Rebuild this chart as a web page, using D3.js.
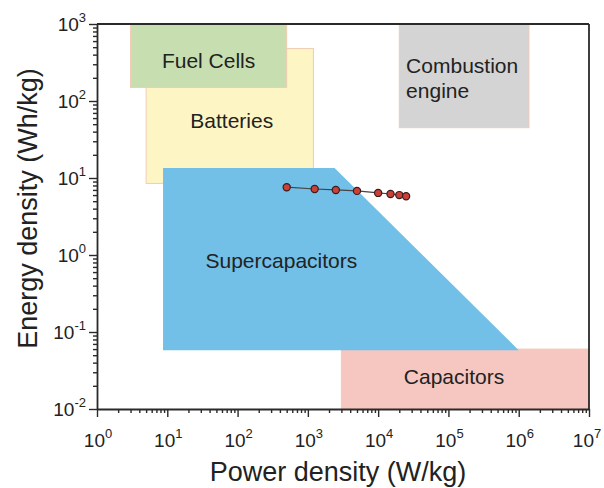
<!DOCTYPE html>
<html lang="en">
<head>
  <meta charset="UTF-8" />
  <title>Ragone plot</title>
  <style>
    body { margin: 0; background: #fff; font-family: "Liberation Sans", Arial, sans-serif; }
    svg { display: block; }
  </style>
</head>
<body>
  <svg id="chart"></svg>

  <script src="https://d3js.org/d3.v7.min.js"></script>
  <script>
    // ---- data ----
    const xDomain = [1, 1e7];
    const yDomain = [0.01, 1000];
    const xDecades = [0, 1, 2, 3, 4, 5, 6, 7];
    const yDecades = [-2, -1, 0, 1, 2, 3];

    // rectangular regions: [xMin, xMax, yMin, yMax]
    const regionNames = ["Batteries", "Fuel Cells", "Combustion engine", "Capacitors"];
    const regionBounds = [
      [5, 1200, 8.5, 480],
      [3, 500, 150, 1000],
      [20000, 1.4e6, 45, 1000],
      [3000, 1e7, 0.06, 0.01]
    ];
    const regionFills = ["#fdf6c4", "#c7dfb0", "#d4d4d4", "#f6c7c0"];

    // supercapacitor polygon corners (x, y)
    const superX = [8.7, 2400, 1e6, 8.7];
    const superY = [13.5, 13.5, 0.058, 0.058];

    // measured points
    const powerVals = [500, 1250, 2500, 5000, 10000, 15000, 20000, 25000];
    const energyVals = [7.6, 7.2, 7.0, 6.8, 6.4, 6.2, 6.0, 5.8];

    // ---- layout ----
    const W = 604, H = 488;
    const margin = {top: 24, right: 15, bottom: 79, left: 97};
    const width = W - margin.left - margin.right;
    const height = H - margin.top - margin.bottom;

    const root = d3.select("#chart").attr("width", W).attr("height", H);
    const svg = root.append("g").attr("transform", `translate(${margin.left},${margin.top})`);

    const x = d3.scaleLog().domain(xDomain).range([0, width]);
    const y = d3.scaleLog().domain(yDomain).range([height, 0]);

    // regions
    svg.selectAll(".region")
      .data(regionBounds)
      .join("rect")
      .attr("x", d => x(d[0]))
      .attr("width", d => x(d[1]) - x(d[0]))
      .attr("y", d => y(Math.max(d[2], d[3])))
      .attr("height", d => Math.abs(y(d[2]) - y(d[3])))
      .attr("fill", (d, i) => regionFills[i])
      .attr("stroke", "#f2cbb4")
      .attr("stroke-width", 1);

    svg.append("polygon")
      .attr("points", superX.map((v, i) => `${x(v)},${y(superY[i])}`).join(" "))
      .attr("fill", "#72bfe8");

    // region labels
    const labelFont = 21;
    svg.append("text").attr("x", (x(3) + x(500)) / 2).attr("y", y(270))
      .attr("text-anchor", "middle").attr("font-size", labelFont).attr("fill", "#222").text("Fuel Cells");
    svg.append("text").attr("x", (x(5) + x(1200)) / 2 + 2).attr("y", y(45))
      .attr("text-anchor", "middle").attr("font-size", labelFont).attr("fill", "#222").text("Batteries");
    const ce = svg.append("text").attr("x", x(25000)).attr("y", y(230))
      .attr("font-size", labelFont).attr("fill", "#222");
    ce.append("tspan").text("Combustion");
    ce.append("tspan").attr("x", x(25000)).attr("dy", 25).text("engine");
    svg.append("text").attr("x", x(420)).attr("y", y(0.68))
      .attr("text-anchor", "middle").attr("font-size", labelFont).attr("fill", "#222").text("Supercapacitors");
    svg.append("text").attr("x", x(1.2e5)).attr("y", y(0.021))
      .attr("text-anchor", "middle").attr("font-size", labelFont).attr("fill", "#222").text("Capacitors");

    // data line + points
    svg.append("path")
      .datum(powerVals.map((p, i) => [p, energyVals[i]]))
      .attr("fill", "none")
      .attr("stroke", "#444")
      .attr("stroke-width", 1.2)
      .attr("d", d3.line().x(d => x(d[0])).y(d => y(d[1])));

    svg.selectAll(".pt")
      .data(powerVals)
      .join("circle")
      .attr("cx", d => x(d))
      .attr("cy", (d, i) => y(energyVals[i]))
      .attr("r", 3.6)
      .attr("fill", "#c9423a")
      .attr("stroke", "#3a1c1c")
      .attr("stroke-width", 1.2);

    // axes with minor ticks
    function allTicks(decs) {
      const t = [];
      decs.forEach((e, k) => {
        for (let m = 1; m <= 9; m++) {
          if (k === decs.length - 1 && m > 1) break;
          t.push(m * Math.pow(10, e));
        }
      });
      return t;
    }
    const isMajor = v => Math.abs(Math.log10(v) - Math.round(Math.log10(v))) < 1e-9;

    const xAxis = svg.append("g").attr("transform", `translate(0,${height})`)
      .call(d3.axisBottom(x).tickValues(allTicks(xDecades)).tickFormat("").tickSizeOuter(0));
    xAxis.selectAll(".tick line").attr("y2", d => isMajor(d) ? 8 : 4);

    const yAxis = svg.append("g")
      .call(d3.axisLeft(y).tickValues(allTicks(yDecades)).tickFormat("").tickSizeOuter(0));
    yAxis.selectAll(".tick line").attr("x2", d => isMajor(d) ? -8 : -4);

    [xAxis, yAxis].forEach(a => {
      a.select(".domain").attr("stroke", "#2a2a2a").attr("stroke-width", 1.8);
      a.selectAll(".tick line").attr("stroke", "#2a2a2a").attr("stroke-width", 1.4);
    });

    // frame top + right
    svg.append("line").attr("x1", 0).attr("x2", width).attr("y1", 0).attr("y2", 0)
      .attr("stroke", "#2a2a2a").attr("stroke-width", 1.8);
    svg.append("line").attr("x1", width).attr("x2", width).attr("y1", 0).attr("y2", height)
      .attr("stroke", "#2a2a2a").attr("stroke-width", 1.8);

    // tick labels 10^n
    const tickFont = 19;
    xDecades.forEach((e, i) => {
      const last = i === xDecades.length - 1;
      const t = svg.append("text").attr("x", x(Math.pow(10, e)) + (last ? -2 : 1)).attr("y", height + 38)
        .attr("text-anchor", "middle").attr("font-size", tickFont).attr("fill", "#222");
      t.append("tspan").text("10");
      t.append("tspan").attr("dy", -9).attr("font-size", 13).text(e);
    });
    yDecades.forEach(e => {
      const t = svg.append("text").attr("x", -11).attr("y", y(Math.pow(10, e)) + 7)
        .attr("text-anchor", "end").attr("font-size", tickFont).attr("fill", "#222");
      t.append("tspan").text("10");
      t.append("tspan").attr("dy", -9).attr("font-size", 13).text(e);
    });

    // axis titles
    svg.append("text").attr("x", width / 2 - 5).attr("y", height + 72)
      .attr("text-anchor", "middle").attr("font-size", 27).attr("fill", "#222")
      .text("Power density (W/kg)");
    svg.append("text")
      .attr("transform", `translate(${-margin.left + 37},${height / 2 - 8}) rotate(-90)`)
      .attr("text-anchor", "middle").attr("font-size", 27).attr("fill", "#222")
      .text("Energy density (Wh/kg)");
  </script>
</body>
</html>
